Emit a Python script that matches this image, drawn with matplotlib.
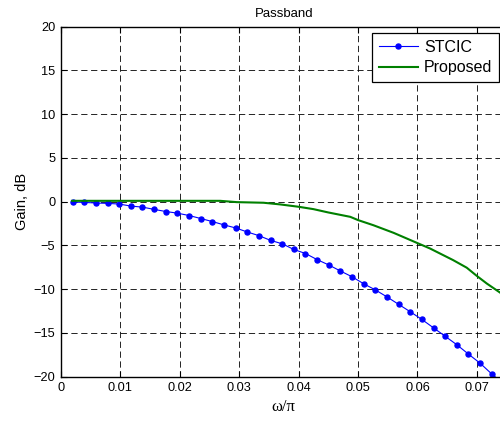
import matplotlib
matplotlib.use('Agg')
import matplotlib.pyplot as plt

plt.rcParams['font.family'] = ['Liberation Sans', 'DejaVu Sans']
plt.rcParams['lines.scale_dashes'] = False

# STCIC samples (omega/pi, gain dB)
stcic_x = [0.00196, 0.00392, 0.00588, 0.00784, 0.0098, 0.01176, 0.01372, 0.01568,
           0.01764, 0.0196, 0.02156, 0.02352, 0.02548, 0.02744, 0.0294, 0.03136,
           0.03332, 0.03528, 0.03724, 0.0392, 0.04116, 0.04312, 0.04508, 0.04704,
           0.049, 0.05096, 0.05292, 0.05488, 0.05684, 0.0588, 0.06076, 0.06272,
           0.06468, 0.06664, 0.0686, 0.07056, 0.07252, 0.07448]
stcic_y = [-0.04, -0.08, -0.15, -0.19, -0.27, -0.5, -0.62, -0.88,
           -1.12, -1.31, -1.58, -1.92, -2.27, -2.65, -3.0, -3.46,
           -3.88, -4.42, -4.81, -5.46, -5.92, -6.62, -7.23, -7.92,
           -8.58, -9.38, -10.08, -10.88, -11.73, -12.58, -13.46, -14.42,
           -15.38, -16.35, -17.42, -18.46, -19.69, -20.8]

# Proposed
prop_x = [0.00185, 0.01, 0.02, 0.0268, 0.0296, 0.0341, 0.0369, 0.04, 0.0425,
          0.045, 0.047, 0.0487, 0.05, 0.0526, 0.056, 0.0599, 0.0621, 0.066,
          0.0683, 0.07, 0.0717, 0.0739, 0.0755]
prop_y = [0.1, 0.1, 0.1, 0.1, -0.05, -0.12, -0.31, -0.58, -0.85,
          -1.23, -1.5, -1.73, -2.1, -2.69, -3.56, -4.7, -5.34, -6.67,
          -7.54, -8.48, -9.36, -10.38, -11.2]

xticks = [0, 0.01, 0.02, 0.03, 0.04, 0.05, 0.06, 0.07]
xticklabels = ['0', '0.01', '0.02', '0.03', '0.04', '0.05', '0.06', '0.07']
yticks = [-20, -15, -10, -5, 0, 5, 10, 15, 20]

fig = plt.figure(figsize=(5, 4.21), dpi=100)
ax = fig.add_axes([61/500, 1-376.7/421, 445.5/500, 350/421])

ax.plot(stcic_x, stcic_y, color='#0000ff', lw=0.8, marker='o', ms=3.6, label='STCIC')
ax.plot(prop_x, prop_y, color='#008000', lw=1.5, label='Proposed')

ax.set_xlim(0, 0.075)
ax.set_ylim(-20, 20)
ax.set_xticks(xticks)
ax.set_xticklabels(xticklabels)
ax.set_yticks(yticks)
ax.tick_params(direction='in', length=4, width=0.8, labelsize=9.2,
               top=True, right=True, pad=4)
for s in ax.spines.values():
    s.set_linewidth(1.0)

ax.grid(True, color='k', lw=0.6, linestyle='--', dashes=(4.5, 2.6))

ax.set_title('Passband', fontsize=9.5, pad=7)
ax.set_ylabel('Gain, dB', fontsize=10.5)
ax.yaxis.set_label_coords(-0.072, 0.5)
ax.set_xlabel('ω/π', fontsize=12, family=['Liberation Serif', 'DejaVu Serif'])
ax.xaxis.set_label_coords(0.5, -0.065)

leg = ax.legend(loc='upper right', bbox_to_anchor=(499/500, 1-33/421),
                bbox_transform=fig.transFigure, borderaxespad=0,
                fontsize=11.5, fancybox=False, handlelength=2.4,
                handletextpad=0.4, borderpad=0.42, labelspacing=0.35, numpoints=1)
leg.get_frame().set_edgecolor('k')
leg.get_frame().set_linewidth(0.9)
leg.get_frame().set_alpha(1)

fig.savefig('out.png', dpi=100)
